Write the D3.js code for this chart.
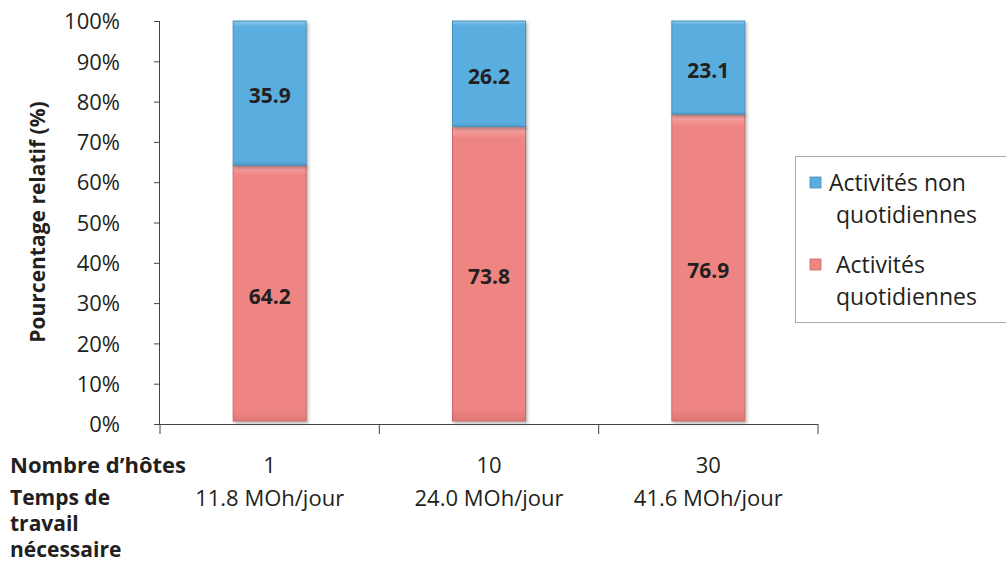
<!DOCTYPE html>
<html>
<head>
<meta charset="utf-8">
<title></title>
<script src="https://cdn.jsdelivr.net/npm/d3@7"></script>
<style>
	body{margin:0;background:#fff;}
	text{font-family:"Open Sans","Noto Sans",sans-serif;fill:#231f20;}
</style>
</head>
<body>
<script>
	var w=1006, h=562;
	var hosts=["1","10","30"];
	var workTime=["11.8 MOh/jour","24.0 MOh/jour","41.6 MOh/jour"];
	var daily=[64.2,73.8,76.9];
	var nonDaily=[35.9,26.2,23.1];
	var yTicks=[0,10,20,30,40,50,60,70,80,90,100];

	var plotL=160, plotR=818, plotT=21, plotB=424;

	var svg=d3.select("body").append("svg").attr("width",w).attr("height",h);

	var defs=svg.append("defs");
	var f=defs.append("filter").attr("id","shadow").attr("x","-20%").attr("y","-20%").attr("width","150%").attr("height","150%");
	f.append("feDropShadow").attr("dx",1.5).attr("dy",2).attr("stdDeviation",1.8).attr("flood-color","#000").attr("flood-opacity",0.3);
	// slight bevel look
	[["gBlue","#8cc8ec","#5aaedf","#4f9fce"],["gRed","#f6aaa8","#ee8583","#df7775"]].forEach(function(g){
		var lg=defs.append("linearGradient").attr("id",g[0]).attr("x1",0).attr("y1",0).attr("x2",0).attr("y2",1);
		lg.append("stop").attr("offset","0%").attr("stop-color",g[1]);
		lg.append("stop").attr("offset","4%").attr("stop-color",g[2]);
		lg.append("stop").attr("offset","96%").attr("stop-color",g[2]);
		lg.append("stop").attr("offset","100%").attr("stop-color",g[3]);
	});

	var x=d3.scaleBand().domain(hosts).range([plotL,plotR]);
	var y=d3.scaleLinear().domain([0,100]).range([plotB,plotT]);
	var barW=73;

	// bars
	var rows=hosts.map(function(d,i){return {k:d,daily:daily[i],non:nonDaily[i]};});
	rows.forEach(function(r){
		var cx=x(r.k)+x.bandwidth()/2;
		var topVal=Math.min(100,r.daily+r.non);
		svg.append("rect").attr("x",cx-barW/2).attr("y",y(r.daily)).attr("width",barW)
			.attr("height",y(0)-y(r.daily)-3).attr("fill","url(#gRed)").attr("stroke","#c96a68").attr("stroke-width",1)
			.attr("filter","url(#shadow)");
		svg.append("rect").attr("x",cx-barW/2).attr("y",y(topVal)).attr("width",barW)
			.attr("height",y(r.daily)-y(topVal)).attr("fill","url(#gBlue)").attr("stroke","#4a8fb8").attr("stroke-width",1)
			.attr("filter","url(#shadow)");
		svg.append("text").attr("x",cx).attr("y",(y(0)+y(r.daily))/2+9).attr("text-anchor","middle")
			.attr("font-size",21).attr("font-weight","bold").text(r.daily.toFixed(1));
		svg.append("text").attr("x",cx).attr("y",(y(r.daily)+y(topVal))/2+10).attr("text-anchor","middle")
			.attr("font-size",21).attr("font-weight","bold").text(r.non.toFixed(1));
	});

	// y axis
	var ya=svg.append("g").attr("transform","translate("+plotL+",0)")
		.call(d3.axisLeft(y).tickValues(yTicks).tickSize(6).tickFormat(function(d){return d+"%";}));
	ya.select(".domain").attr("stroke","#444").attr("d","M-0.5,"+plotT+"V"+plotB);
	ya.selectAll(".tick line").attr("stroke","#444");
	ya.selectAll(".tick text").attr("font-size",22).attr("x",-40).attr("dy","0.35em")
		.style("font-family","'Open Sans',sans-serif").attr("fill","#231f20");

	// x axis
	var xa=svg.append("g").attr("transform","translate(0,"+plotB+")")
		.call(d3.axisBottom(x).tickSize(0).tickFormat(""));
	xa.select(".domain").attr("stroke","#444").attr("d","M"+plotL+",0.5H"+plotR);
	xa.selectAll(".tick").remove();
	var seps=x.domain().map(function(d){return x(d);}).concat([plotR]);
	xa.selectAll("line.sep").data(seps).enter().append("line")
		.attr("x1",function(d){return d;}).attr("x2",function(d){return d;})
		.attr("y1",0).attr("y2",10).attr("stroke","#444");

	// category labels
	svg.selectAll("text.host").data(hosts).enter().append("text")
		.attr("x",function(d){return x(d)+x.bandwidth()/2;}).attr("y",473)
		.attr("text-anchor","middle").attr("font-size",22).text(function(d){return d;});
	svg.selectAll("text.work").data(workTime).enter().append("text")
		.attr("x",function(d,i){return x(hosts[i])+x.bandwidth()/2;}).attr("y",506)
		.attr("text-anchor","middle").attr("font-size",22).text(function(d){return d;});

	svg.append("text").attr("x",10).attr("y",473).attr("font-size",22).attr("font-weight","bold").text("Nombre d’hôtes");
	["Temps de","travail","nécessaire"].forEach(function(t,i){
		svg.append("text").attr("x",10).attr("y",505+i*26).attr("font-size",21).attr("font-weight","bold").text(t);
	});

	// y title
	svg.append("text").attr("transform","translate(45,222) rotate(-90)").attr("text-anchor","middle")
		.attr("font-size",21).attr("font-weight","bold").text("Pourcentage relatif (%)");

	// legend
	svg.append("rect").attr("x",795.5).attr("y",156.5).attr("width",220).attr("height",166)
		.attr("fill","#fff").attr("stroke","#aaa");
	var leg=[{c:"url(#gBlue)",s:"#4a8fb8",l:["Activités non","quotidiennes"],y:191,tx:[829,836]},
		{c:"url(#gRed)",s:"#c96a68",l:["Activités","quotidiennes"],y:273,tx:[836,836]}];
	leg.forEach(function(d){
		svg.append("rect").attr("x",810).attr("y",d.y-14).attr("width",11).attr("height",11)
			.attr("fill",d.c).attr("stroke",d.s).attr("stroke-width",0.8);
		d.l.forEach(function(t,j){
			svg.append("text").attr("x",d.tx[j]).attr("y",d.y+j*32).attr("font-size",23).text(t);
		});
	});
</script>
</body>
</html>
